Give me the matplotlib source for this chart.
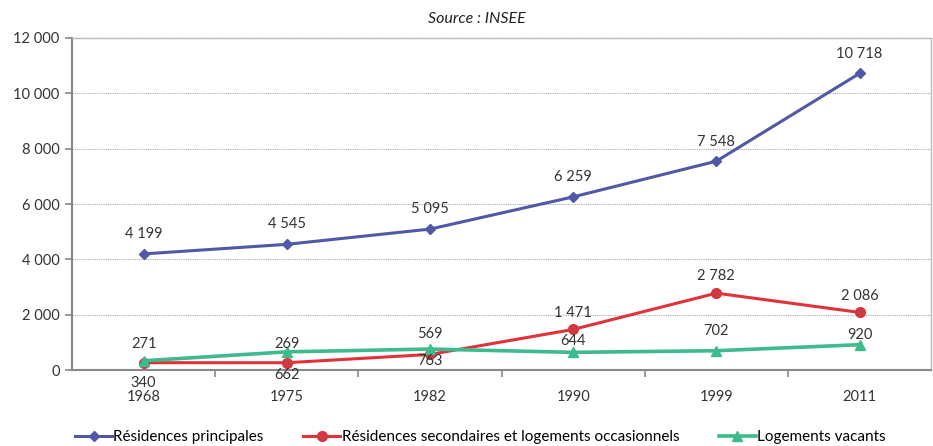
import matplotlib
matplotlib.use("Agg")
import matplotlib.pyplot as plt
from matplotlib.ticker import FuncFormatter

plt.rcParams['font.family'] = ['Lato', 'DejaVu Sans']

years = ['1968', '1975', '1982', '1990', '1999', '2011']
principales = [4199, 4545, 5095, 6259, 7548, 10718]
secondaires = [271, 269, 569, 1471, 2782, 2086]
vacants = [340, 662, 763, 644, 702, 920]

names = ['Résidences principales',
         'Résidences secondaires et logements occasionnels',
         'Logements vacants']

# label offsets in pixels (vertical), picked by eye
off_p = [20, 20, 20, 20, 19, 19]
off_s = [19, 19, 20, 16, 17, 16]
off_v = [-22, -23, -12, 11, 20, 10]


def fmt(v, pos=None):
    return '{:,}'.format(int(v)).replace(',', ' ')


fig = plt.figure(figsize=(9.33, 4.46), dpi=100)
ax = fig.add_axes([0.0772, 0.170, 0.9208, 0.745])

x = list(range(len(years)))
blue = '#5158a6'
red = '#e0323a'
green = '#3dbb8c'

ax.plot(x, principales, color=blue, lw=2.2, marker='D', ms=5, label=names[0])
ax.plot(x, secondaires, color=red, lw=2.2, marker='o', ms=7, mfc='#cc3b42', mec=red, label=names[1])
ax.plot(x, vacants, color=green, lw=2.6, marker='^', ms=7, label=names[2])

for serie, offs in ((principales, off_p), (secondaires, off_s), (vacants, off_v)):
    for i, v in enumerate(serie):
        ax.annotate(fmt(v), (i, v), xytext=(0, offs[i]), textcoords='offset pixels',
                    ha='center', va='center', fontsize=10.5, color='#333333')

ax.set_xlim(-0.5, 5.5)
ax.set_ylim(0, 12000)
ax.set_yticks(range(0, 12001, 2000))
ax.yaxis.set_major_formatter(FuncFormatter(fmt))
ax.set_xticks(x)
ax.set_xticklabels(years)
ax.set_xticks([0.5, 1.5, 2.5, 3.5, 4.5], minor=True)
ax.tick_params(axis='x', which='major', length=0, pad=14, labelsize=10.5, colors='#333333')
ax.tick_params(axis='x', which='minor', length=5, color='#888888', width=1.2, direction='out')
ax.tick_params(axis='y', length=5, color='#888888', width=1.2, labelsize=10.5, colors='#333333', pad=4)

ax.grid(axis='y', color='#aaaaaa', ls=(0, (1, 1)), lw=0.8)
ax.set_axisbelow(True)
for s in ('left', 'bottom'):
    ax.spines[s].set_color('#888888')
    ax.spines[s].set_linewidth(1.5)
for s in ('top', 'right'):
    ax.spines[s].set_color('#bbbbbb')
    ax.spines[s].set_linewidth(1.0)

fig.text(0.511, 0.958, 'Source : INSEE', style='italic', ha='center', va='center',
         fontsize=11.5, color='#222222')

fig.legend(loc='center', bbox_to_anchor=(0.515, 0.02), ncol=3, frameon=False,
           fontsize=11, handlelength=2.4, handletextpad=0.1, columnspacing=2.6)

fig.savefig('out.png', dpi=100)
